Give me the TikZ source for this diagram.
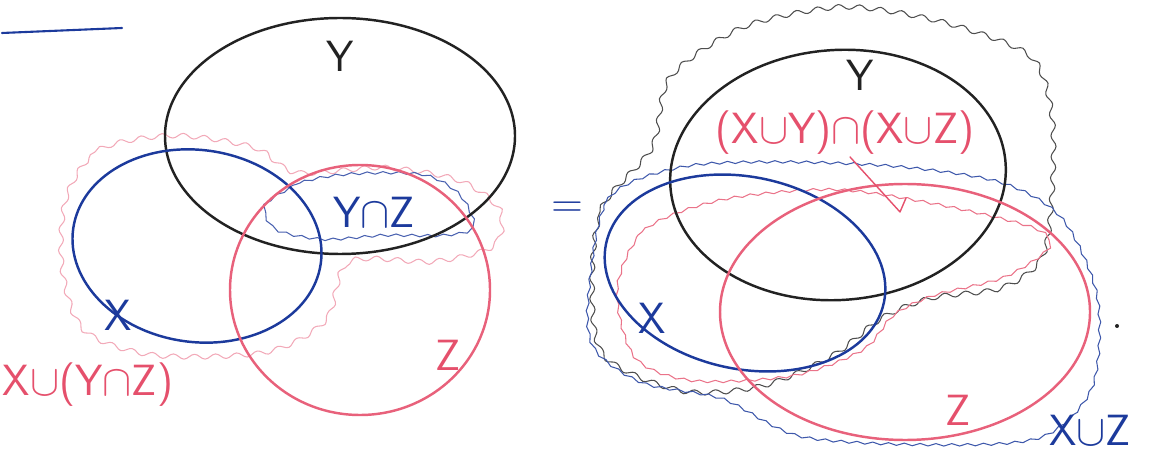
\documentclass[tikz,border=0pt]{standalone}
\usepackage{amsmath,amssymb}
\usepackage{xcolor}
\usepackage{tikz}
\usetikzlibrary{arrows.meta,decorations.pathmorphing,positioning}
\definecolor{vnBlue}{HTML}{1C3A9C}
\definecolor{vnRed}{HTML}{E5506C}
\definecolor{vnPink}{HTML}{F2A9B8}
\definecolor{vnInk}{HTML}{222222}
\tikzset{
  vn diagram/.style={font=\sffamily\Huge, x=0.02cm, y=-0.02cm,
    line cap=round, line join=round},
  vn set/.style={line width=1.4pt},
  vn wavy/.style={line width=0.6pt, decorate,
    decoration={snake, amplitude=0.7pt, segment length=9pt}},
  vn cloud/.style={vn wavy, decoration={snake, amplitude=1.4pt, segment length=12pt}},
  vn label/.style={inner sep=1pt},
  vn pointer/.style={draw=vnRed, line width=0.8pt}
}

\begin{document}
\begin{tikzpicture}[vn diagram]
\useasboundingbox (0,0) rectangle (1152,462);
\draw[vnBlue, line width=1.2pt] (2,33) -- (122,28);

% left: X u (Y n Z)
\coordinate (lY) at (340,136);
\coordinate (lX) at (197,246);
\coordinate (lZ) at (360,290);
\draw[vn cloud, draw=vnPink] plot[smooth cycle] coordinates {(62,200) (95,152) (170,138) (250,150) (292,175) (380,170) (455,183) (495,212) (490,248) (430,264) (345,264) (322,322) (262,354) (150,357) (80,332) (58,270)};
\draw[vn wavy, draw=vnBlue!80] plot[smooth cycle] coordinates {(262,205) (300,183) (350,175) (420,176) (456,196) (470,228) (440,236) (380,236) (320,240) (272,230)};
\draw[vn set, draw=vnInk] (lY) ellipse [x radius=175, y radius=118];
\draw[vn set, draw=vnBlue, rotate around={-8:(lX)}] (lX) ellipse [x radius=125, y radius=96];
\draw[vn set, draw=vnRed!90] (lZ) ellipse [x radius=130, y radius=125];
\node[vn label, text=vnInk] (lYlab) at (340,56) {Y};
\node[vn label, text=vnBlue] (lYZlab) at (374,212) {Y$\cap$Z};
\node[vn label, text=vnBlue] (lXlab) at (118,315) {X};
\node[vn label, text=vnRed] (lZlab) at (448,355) {Z};
\node[vn label, text=vnRed] (lUlab) at (88,385) {X$\cup$(Y$\cap$Z)};

\node[vn label, text=vnBlue] (eq) at (567,210) {=};

% right: (X u Y) n (X u Z)
\coordinate (rY) at (838,175);
\coordinate (rX) at (745,273);
\coordinate (rZ) at (905,312);
\draw[vn cloud, draw=vnInk!80] plot[smooth cycle] coordinates {(590,290) (600,212) (650,152) (668,82) (740,32) (830,12) (890,16) (960,32) (1030,62) (1050,120) (1050,200) (1040,262) (1000,292) (930,302) (880,322) (830,360) (760,390) (680,395) (602,360)};
\draw[vn wavy, draw=vnBlue!85] plot[smooth cycle] coordinates {(586,300) (606,202) (680,170) (780,165) (900,170) (1000,186) (1060,222) (1095,300) (1090,390) (1040,440) (940,448) (800,440) (720,402) (640,386) (592,352)};
\draw[vn wavy, draw=vnRed!80] plot[smooth cycle] coordinates {(614,292) (642,232) (720,202) (830,192) (930,206) (1030,230) (1046,250) (1000,280) (930,298) (890,318) (860,352) (790,378) (690,383) (632,360)};
\draw[vn set, draw=vnInk, rotate around={4:(rY)}] (rY) ellipse [x radius=168, y radius=125];
\draw[vn set, draw=vnBlue, rotate around={-12:(rX)}] (rX) ellipse [x radius=142, y radius=96];
\draw[vn set, draw=vnRed!90] (rZ) ellipse [x radius=185, y radius=128];
\node[vn label, text=vnInk] (rYlab) at (860,75) {Y};
\node[vn label, text=vnRed] (rIlab) at (845,133) {(X$\cup$Y)$\cap$(X$\cup$Z)};
\coordinate (rItip) at (900,212);
\draw[vn pointer] (rIlab.south) ++(5,0) -- (rItip) -- ++(6,-14);
\node[vn label, text=vnBlue] (rXlab) at (652,318) {X};
\node[vn label, text=vnRed] (rZlab) at (958,410) {Z};
\node[vn label, text=vnBlue] (rUlab) at (1090,430) {X$\cup$Z};
\fill[vnInk] (1117,326) circle [radius=2];
\end{tikzpicture}
\end{document}
